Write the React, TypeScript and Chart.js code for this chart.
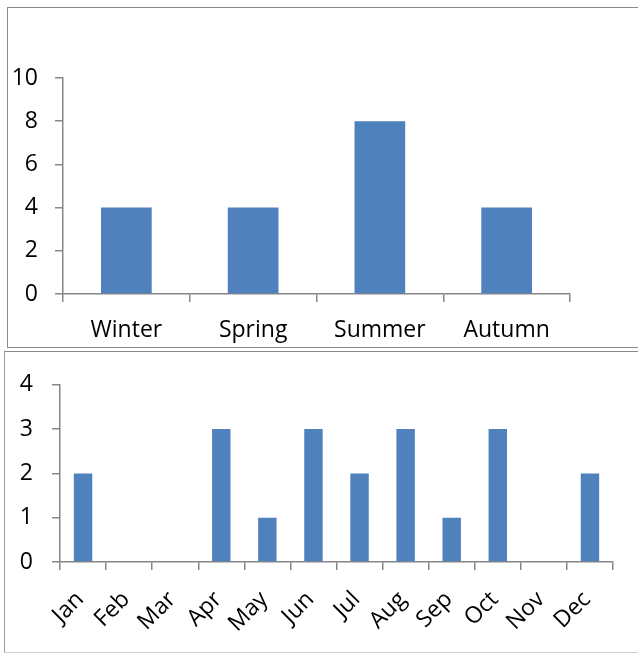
import React, { useEffect, useRef } from "react";
import { Chart, registerables } from "chart.js";

Chart.register(...registerables);

const seasons = ["Winter", "Spring", "Summer", "Autumn"];
const seasonCounts = [4, 4, 8, 4];

const months = ["Jan", "Feb", "Mar", "Apr", "May", "Jun", "Jul", "Aug", "Sep", "Oct", "Nov", "Dec"];
const monthCounts = [2, 0, 0, 3, 1, 3, 2, 3, 1, 3, 0, 2];

const BAR = "#4F81BD";
const AXIS = "#868686";
const FONT = "'Open Sans', sans-serif";

type Cfg = {
  labels: string[];
  values: number[];
  max: number;
  step: number;
  yWidth: number;
  xHeight: number;
  pad: { top: number; right: number };
  yPad: number;
  xPad: number;
  xShift: number;
  rotate: number;
  fontSize: number;
};

function BarPanel({ cfg, width, height }: { cfg: Cfg; width: number; height: number }) {
  const ref = useRef<HTMLCanvasElement | null>(null);
  useEffect(() => {
    if (!ref.current) return;
    const chart = new Chart(ref.current, {
      type: "bar",
      data: {
        labels: cfg.labels,
        datasets: [
          {
            data: cfg.values,
            backgroundColor: BAR,
            borderWidth: 0,
            barPercentage: 0.4,
            categoryPercentage: 1,
          },
        ],
      },
      options: {
        animation: false,
        responsive: false,
        maintainAspectRatio: false,
        layout: { padding: { top: cfg.pad.top, right: cfg.pad.right, left: 0, bottom: 0 } },
        plugins: { legend: { display: false }, tooltip: { enabled: false } },
        scales: {
          x: {
            grid: { drawOnChartArea: false, drawTicks: true, tickLength: 8, color: AXIS, lineWidth: 1.5, offset: true },
            border: { display: true, color: AXIS, width: 1.5 },
            ticks: {
              color: "#000",
              font: { family: FONT, size: cfg.fontSize },
              padding: cfg.xPad,
              labelOffset: cfg.xShift,
              maxRotation: cfg.rotate,
              minRotation: cfg.rotate,
              autoSkip: false,
            },
            afterFit: (s: any) => {
              s.height = cfg.xHeight;
            },
          },
          y: {
            min: 0,
            max: cfg.max,
            grid: { drawOnChartArea: false, drawTicks: true, tickLength: 8, color: AXIS, lineWidth: 1.5 },
            border: { display: true, color: AXIS, width: 1.5 },
            ticks: {
              stepSize: cfg.step,
              color: "#000",
              font: { family: FONT, size: cfg.fontSize },
              padding: cfg.yPad,
            },
            afterFit: (s: any) => {
              s.width = cfg.yWidth;
            },
          },
        },
      },
    });
    return () => chart.destroy();
  }, []);
  return <canvas ref={ref} width={width} height={height} style={{ display: "block", width, height }} />;
}

const topCfg: Cfg = {
  labels: seasons,
  values: seasonCounts,
  max: 10,
  step: 2,
  yWidth: 55,
  xHeight: 53,
  pad: { top: 70, right: 68 },
  yPad: 17,
  xPad: 15,
  xShift: 0,
  rotate: 0,
  fontSize: 23,
};

const bottomCfg: Cfg = {
  labels: months,
  values: monthCounts,
  max: 4,
  step: 1,
  yWidth: 55,
  xHeight: 90,
  pad: { top: 29, right: 25 },
  yPad: 19,
  xPad: 16,
  xShift: -3,
  rotate: 45,
  fontSize: 23,
};

export default function App() {
  return (
    <div style={{ position: "fixed", left: 0, top: 0, width: 638, height: 653, background: "#fff", overflow: "hidden" }}>
      <div
        style={{
          position: "absolute",
          left: 7,
          top: 7,
          width: 660,
          height: 339,
          border: "1px solid #8a8a8a",
        }}
      >
        <BarPanel cfg={topCfg} width={630} height={339} />
      </div>
      <div
        style={{
          position: "absolute",
          left: 4,
          top: 351,
          width: 660,
          height: 300,
          borderTop: "1px solid #8a8a8a",
          borderLeft: "1px solid #999",
          borderBottom: "1px solid #cfcfcf",
        }}
      >
        <BarPanel cfg={bottomCfg} width={633} height={300} />
      </div>
    </div>
  );
}
